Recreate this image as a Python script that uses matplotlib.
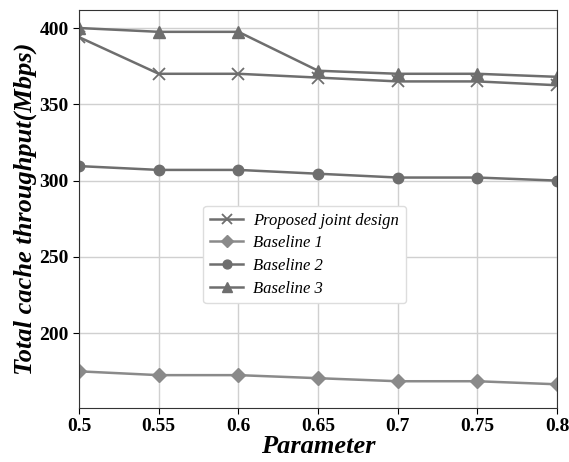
import matplotlib.pyplot as plt

x = [0.5, 0.55, 0.6, 0.65, 0.7, 0.75, 0.8]
proposed = [394, 370, 370, 367.5, 365, 365, 362.5]
baseline1 = [175, 172.5, 172.5, 170.5, 168.5, 168.5, 166.5]
baseline2 = [309.5, 307, 307, 304.5, 302, 302, 300]
baseline3 = [400, 397.5, 397.5, 372, 370, 370, 368]
xticks = ['0.5', '0.55', '0.6', '0.65', '0.7', '0.75', '0.8']

plt.rcParams['font.family'] = ['Liberation Serif', 'DejaVu Serif']

fig = plt.figure(figsize=(5.69, 4.62), dpi=100)
ax = fig.add_axes([0.139, 0.117, 0.840, 0.862])

c = '#6e6e6e'
ax.plot(x, proposed, color=c, marker='x', markersize=8, mew=1.3, lw=1.8, label='Proposed joint design')
ax.plot(x, baseline1, color='#8a8a8a', marker='D', markersize=7, lw=1.8, label='Baseline 1')
ax.plot(x, baseline2, color=c, marker='o', markersize=7.5, lw=1.8, label='Baseline 2')
ax.plot(x, baseline3, color=c, marker='^', markersize=8, lw=1.8, label='Baseline 3')

ax.set_xlim(0.5, 0.8)
ax.set_ylim(151, 412)
ax.set_xticks(x)
ax.set_xticklabels(xticks)
ax.set_yticks([200, 250, 300, 350, 400])
ax.grid(True, color='#d0d0d0', lw=1)
ax.tick_params(labelsize=14, direction='out', length=4)
for lab in ax.get_xticklabels() + ax.get_yticklabels():
    lab.set_fontweight('bold')

ax.set_xlabel('Parameter', fontsize=19, fontweight='bold', style='italic', labelpad=0)
ax.set_ylabel('Total cache throughput(Mbps)', fontsize=19, fontweight='bold', style='italic', labelpad=2)

leg = ax.legend(loc='center', bbox_to_anchor=(0.472, 0.385),
                prop={'style': 'italic', 'size': 12}, handlelength=2.0, labelspacing=0.4,
                handletextpad=0.6, borderpad=0.4, markerscale=0.85, fancybox=True, framealpha=1)
leg.get_frame().set_edgecolor('#dddddd')

for s in ax.spines.values():
    s.set_color('#333333')

fig.savefig('out.png', dpi=100)
